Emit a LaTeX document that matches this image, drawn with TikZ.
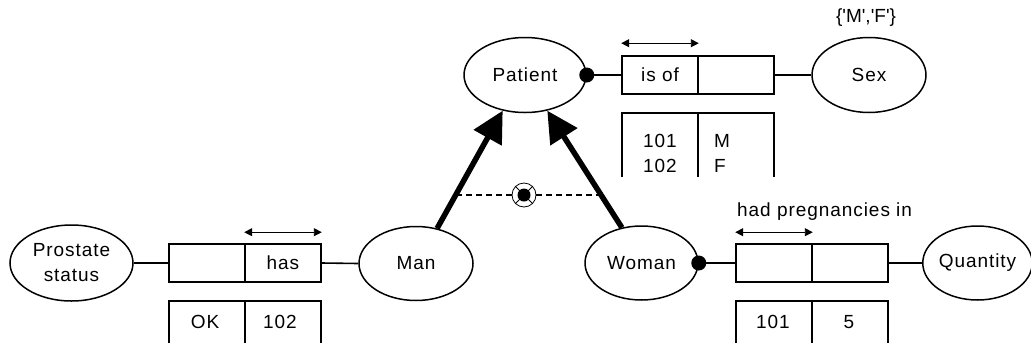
\documentclass[tikz,border=0pt]{standalone}
\usepackage{fontspec}
\setmainfont{Liberation Sans}[LetterSpace=5]
\usetikzlibrary{arrows.meta,calc,shapes.geometric}
\begin{document}
\begin{tikzpicture}[x=1pt,y=-1pt,
  every node/.style={font=\fontsize{19}{25}\selectfont, inner sep=0pt},
  ent/.style={draw, ellipse, line width=1.5pt, align=center},
  cell/.style={draw, rectangle, line width=1.6pt, minimum width=76pt, minimum height=38pt},
  conn/.style={line width=1.6pt},
  tbl/.style={line width=1.6pt},
  dotn/.style={circle, fill=black, minimum size=15pt},
  dbl/.style={line width=0.9pt, {Triangle[length=8pt,width=8pt]}-{Triangle[length=8pt,width=8pt]}},
  isa/.style={line width=5.5pt, -{Triangle[length=31pt,width=31pt]}}]
\useasboundingbox (0,0) rectangle (1031,349);

% entities
\node[ent, minimum width=122pt, minimum height=75pt] (patient) at (525,75) {Patient};
\node[ent, minimum width=114pt, minimum height=75pt] (sex) at (869,75) {Sex};
\node[ent, minimum width=123pt, minimum height=76pt] (prostate) at (71.5,263) {Prostate\\status};
\node[ent, minimum width=114pt, minimum height=74pt] (man) at (416,263.5) {Man};
\node[ent, minimum width=113pt, minimum height=74pt] (woman) at (641.5,263) {Woman};
\node[ent, minimum width=103pt, minimum height=74pt] (quantity) at (977.5,263) {Quantity};

% value constraint
\node (vals) at (866,18) {\{\textquotesingle M\textquotesingle,\textquotesingle F\textquotesingle\}};

% Patient -- Sex fact
\node[cell] (pa) at (660,75) {is of};
\node[cell] (pb) at (736,75) {};
\node[dotn] (pdot) at (patient.east) {};
\draw[conn] (pdot) -- (pa.west);
\draw[conn] (pb.east) -- (sex.west);
\draw[dbl] ($(pa.north west)+(0,-12)$) -- ($(pa.north east)+(0,-12)$);
\draw[tbl] (622,177) -- (622,113) -- (774,113) -- (774,177);
\draw[tbl] (698,113) -- (698,177);
\node[align=center] (t1a) at (660,153) {101\\102};
\node[align=left, anchor=west] (t1b) at (714,153) {M\\F};

% Prostate status -- Man fact
\node[cell] (ma) at (207,263) {};
\node[cell] (mb) at (283,263) {has};
\draw[conn] (prostate.east) -- (ma.west);
\draw[conn] (mb.east) -- (man.west);
\draw[dbl] ($(mb.north west)+(0,-11)$) -- ($(mb.north east)+(0,-11)$);
\draw[tbl] (169,343) -- (169,301) -- (321,301) -- (321,343);
\draw[tbl] (245,301) -- (245,343);
\node (t2a) at (205,322) {OK};
\node (t2b) at (280,322) {102};

% Woman -- Quantity fact
\node[cell] (wa) at (774,263) {};
\node[cell] (wb) at (850,263) {};
\node[dotn] (wdot) at (woman.east) {};
\draw[conn] (wdot) -- (wa.west);
\draw[conn] (wb.east) -- (quantity.west);
\draw[dbl] ($(wa.north west)+(0,-11)$) -- ($(wa.north east)+(0,-11)$);
\node[anchor=base west] (wlabel) at (737,216) {had pregnancies in};
\draw[tbl] (736,343) -- (736,301) -- (888,301) -- (888,343);
\draw[tbl] (812,301) -- (812,343);
\node (t3a) at (773,322) {101};
\node (t3b) at (849,322) {5};

% subtype arrows
\draw[isa] (man.59.5) -- (patient.238);
\draw[isa] (woman.119.2) -- (patient.302);

% exclusion constraint
\coordinate (cl) at (456,195);
\coordinate (cr) at (599,195);
\node[circle, draw, line width=0.8pt, minimum size=24pt] (excl) at (524,195) {};
\draw[line width=1pt] (excl.45) -- (excl.225);
\draw[line width=1pt] (excl.135) -- (excl.315);
\fill (excl.center) circle (6.5pt);
\draw[line width=1.5pt, dash pattern=on 6pt off 4pt] (cl) -- (excl.west);
\draw[line width=1.5pt, dash pattern=on 6pt off 4pt] (excl.east) -- (cr);
\end{tikzpicture}
\end{document}
